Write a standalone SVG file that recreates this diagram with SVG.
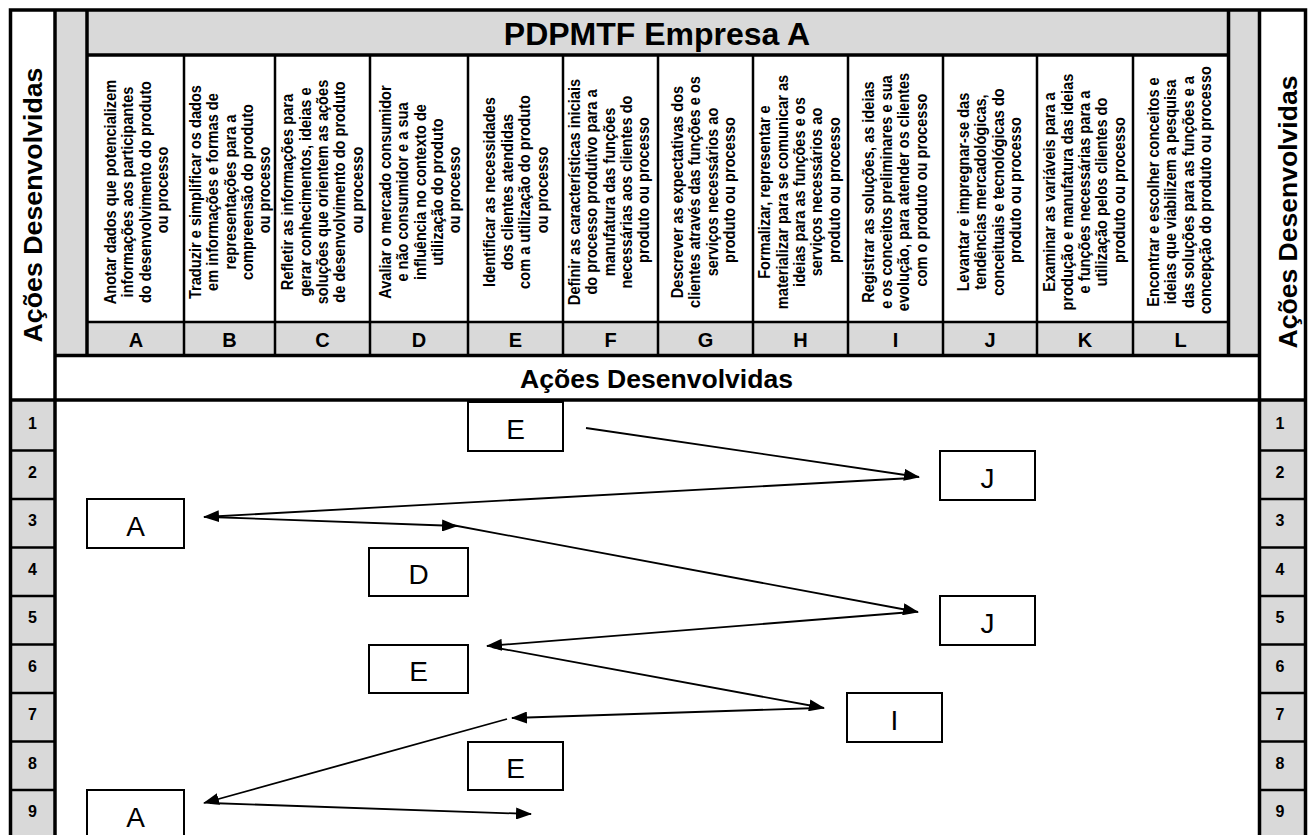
<svg xmlns="http://www.w3.org/2000/svg" width="1313" height="835" viewBox="0 0 1313 835">
  <defs>
    <style>
      .gray{fill:#d9d9d9}
      .thick{stroke:#000;stroke-width:3.5;fill:none}
      .thin{stroke:#000;stroke-width:2.5;fill:none}
      .bold{font-family:"Liberation Sans",Arial,Helvetica,sans-serif;font-weight:bold;fill:#000}
      .coltxt{font-size:16.4px;text-anchor:middle}
      .letter{font-size:20px;text-anchor:middle}
      .rownum{font-size:16px;text-anchor:middle}
      .node rect{fill:#fff;stroke:#000;stroke-width:2}
      .node text{font-family:"Liberation Sans",Arial,Helvetica,sans-serif;font-size:28px;text-anchor:middle;fill:#000}
      .conn{stroke:#000;stroke-width:1.8;fill:none;marker-end:url(#arrow)}
    </style>
    <marker id="arrow" viewBox="0 0 16 12" refX="15" refY="6" markerWidth="16" markerHeight="12" markerUnits="userSpaceOnUse" orient="auto">
      <path d="M0,0 L16,6 L0,12 Z" fill="#000"/>
    </marker>
  </defs>

  <rect x="0" y="0" width="1313" height="835" fill="#fff"/>

  <!-- shaded bands of the header table -->
  <g id="shading">
    <rect class="gray" x="55" y="10" width="32" height="346"/>
    <rect class="gray" x="87" y="10" width="1141" height="45"/>
    <rect class="gray" x="87" y="322" width="1141" height="34"/>
    <rect class="gray" x="1228" y="10" width="31" height="346"/>
    <rect class="gray" x="10" y="400" width="45" height="440"/>
    <rect class="gray" x="1259" y="400" width="46" height="440"/>
  </g>

  <!-- table rules -->
  <g id="grid">
    <rect class="thick" x="10.5" y="10" width="1295" height="840"/>
    <line class="thick" x1="55" y1="10" x2="55" y2="835"/>
    <line class="thick" x1="87" y1="10" x2="87" y2="356"/>
    <line class="thick" x1="1228.5" y1="10" x2="1228.5" y2="356"/>
    <line class="thick" x1="1259.5" y1="10" x2="1259.5" y2="835"/>
    <line class="thick" x1="87" y1="55" x2="1228.5" y2="55"/>
    <line class="thin" x1="87" y1="322" x2="1228.5" y2="322"/>
    <line class="thick" x1="55" y1="355.5" x2="1259.5" y2="355.5"/>
    <line class="thick" x1="10" y1="400" x2="1306" y2="400"/>
    <!-- column dividers -->
    <g class="thin">
      <line x1="184" y1="55" x2="184" y2="356"/>
      <line x1="275" y1="55" x2="275" y2="356"/>
      <line x1="370" y1="55" x2="370" y2="356"/>
      <line x1="468" y1="55" x2="468" y2="356"/>
      <line x1="563" y1="55" x2="563" y2="356"/>
      <line x1="658" y1="55" x2="658" y2="356"/>
      <line x1="753" y1="55" x2="753" y2="356"/>
      <line x1="848" y1="55" x2="848" y2="356"/>
      <line x1="943" y1="55" x2="943" y2="356"/>
      <line x1="1037" y1="55" x2="1037" y2="356"/>
      <line x1="1133" y1="55" x2="1133" y2="356"/>
    </g>
    <!-- row dividers, both sides -->
    <g class="thin">
      <line x1="10" y1="450.5" x2="55" y2="450.5"/>
      <line x1="10" y1="499" x2="55" y2="499"/>
      <line x1="10" y1="547.5" x2="55" y2="547.5"/>
      <line x1="10" y1="596" x2="55" y2="596"/>
      <line x1="10" y1="644.5" x2="55" y2="644.5"/>
      <line x1="10" y1="693" x2="55" y2="693"/>
      <line x1="10" y1="741.5" x2="55" y2="741.5"/>
      <line x1="10" y1="790" x2="55" y2="790"/>
      <line x1="1259.5" y1="450.5" x2="1306" y2="450.5"/>
      <line x1="1259.5" y1="499" x2="1306" y2="499"/>
      <line x1="1259.5" y1="547.5" x2="1306" y2="547.5"/>
      <line x1="1259.5" y1="596" x2="1306" y2="596"/>
      <line x1="1259.5" y1="644.5" x2="1306" y2="644.5"/>
      <line x1="1259.5" y1="693" x2="1306" y2="693"/>
      <line x1="1259.5" y1="741.5" x2="1306" y2="741.5"/>
      <line x1="1259.5" y1="790" x2="1306" y2="790"/>
    </g>
  </g>

  <!-- headings -->
  <g id="headings" class="bold">
    <text x="657" y="45" font-size="32" text-anchor="middle">PDPMTF Empresa A</text>
    <text x="656.5" y="388" font-size="26" text-anchor="middle" textLength="273" lengthAdjust="spacingAndGlyphs">Ações Desenvolvidas</text>
    <text transform="translate(42,205) rotate(-90)" font-size="26" text-anchor="middle" textLength="275" lengthAdjust="spacingAndGlyphs">Ações Desenvolvidas</text>
    <text transform="translate(1297,212) rotate(-90)" font-size="26" text-anchor="middle" textLength="273" lengthAdjust="spacingAndGlyphs">Ações Desenvolvidas</text>
  </g>

  <!-- action descriptions, one column each (narrowed glyphs) -->
  <g id="columns" class="bold coltxt">
    <text transform="translate(137.5,190) rotate(-90) scale(0.89,1)">
      <tspan x="0" y="-21.75">Anotar dados que potencializem</tspan>
      <tspan x="0" y="-4.25">informações aos participantes</tspan>
      <tspan x="0" y="13.25">do desenvolvimento do produto</tspan>
      <tspan x="0" y="30.75">ou processo</tspan>
    </text>
    <text transform="translate(231,190) rotate(-90) scale(0.89,1)">
      <tspan x="0" y="-30.5">Traduzir e simplificar os dados</tspan>
      <tspan x="0" y="-13">em informações e formas de</tspan>
      <tspan x="0" y="4.5">representações para a</tspan>
      <tspan x="0" y="22">compreensão do produto</tspan>
      <tspan x="0" y="39.5">ou processo</tspan>
    </text>
    <text transform="translate(323.5,190) rotate(-90) scale(0.89,1)">
      <tspan x="0" y="-30.5">Refletir as informações para</tspan>
      <tspan x="0" y="-13">gerar conhecimentos, ideias e</tspan>
      <tspan x="0" y="4.5">soluções que orientem as ações</tspan>
      <tspan x="0" y="22">de desenvolvimento do produto</tspan>
      <tspan x="0" y="39.5">ou processo</tspan>
    </text>
    <text transform="translate(421,190) rotate(-90) scale(0.89,1)">
      <tspan x="0" y="-30.5">Avaliar o mercado consumidor</tspan>
      <tspan x="0" y="-13">e não consumidor e a sua</tspan>
      <tspan x="0" y="4.5">influência  no contexto de</tspan>
      <tspan x="0" y="22">utilização do  produto</tspan>
      <tspan x="0" y="39.5">ou processo</tspan>
    </text>
    <text transform="translate(517,190) rotate(-90) scale(0.89,1)">
      <tspan x="0" y="-21.75">Identificar as necessidades</tspan>
      <tspan x="0" y="-4.25">dos clientes atendidas</tspan>
      <tspan x="0" y="13.25">com a utilização do produto</tspan>
      <tspan x="0" y="30.75">ou processo</tspan>
    </text>
    <text transform="translate(610,190) rotate(-90) scale(0.89,1)">
      <tspan x="0" y="-30.5">Definir as características iniciais</tspan>
      <tspan x="0" y="-13">do processo produtivo para a</tspan>
      <tspan x="0" y="4.5">manufatura das funções</tspan>
      <tspan x="0" y="22">necessárias aos clientes do</tspan>
      <tspan x="0" y="39.5">produto ou processo</tspan>
    </text>
    <text transform="translate(704.5,190) rotate(-90) scale(0.89,1)">
      <tspan x="0" y="-21.75">Descrever as expectativas dos</tspan>
      <tspan x="0" y="-4.25">clientes através das funções e os</tspan>
      <tspan x="0" y="13.25">serviços necessários ao</tspan>
      <tspan x="0" y="30.75">produto ou processo</tspan>
    </text>
    <text transform="translate(800.5,190) rotate(-90) scale(0.89,1)">
      <tspan x="0" y="-30.5">Formalizar, representar e</tspan>
      <tspan x="0" y="-13">materializar para se comunicar as</tspan>
      <tspan x="0" y="4.5">ideias para as funções e os</tspan>
      <tspan x="0" y="22">serviços necessários  ao</tspan>
      <tspan x="0" y="39.5">produto ou processo</tspan>
    </text>
    <text transform="translate(896,190) rotate(-90) scale(0.89,1)">
      <tspan x="0" y="-21.75">Registrar as soluções, as ideias</tspan>
      <tspan x="0" y="-4.25">e os conceitos preliminares e sua</tspan>
      <tspan x="0" y="13.25">evolução, para atender os clientes</tspan>
      <tspan x="0" y="30.75">com o produto ou  processo</tspan>
    </text>
    <text transform="translate(990.5,190) rotate(-90) scale(0.89,1)">
      <tspan x="0" y="-21.75">Levantar e impregnar-se das</tspan>
      <tspan x="0" y="-4.25">tendências mercadológicas,</tspan>
      <tspan x="0" y="13.25">conceituais e tecnológicas do</tspan>
      <tspan x="0" y="30.75">produto ou processo</tspan>
    </text>
    <text transform="translate(1085.5,190) rotate(-90) scale(0.89,1)">
      <tspan x="0" y="-30.5">Examinar as variáveis para a</tspan>
      <tspan x="0" y="-13">produção e manufatura das ideias</tspan>
      <tspan x="0" y="4.5">e funções necessárias para a</tspan>
      <tspan x="0" y="22">utilização pelos clientes do</tspan>
      <tspan x="0" y="39.5">produto ou processo</tspan>
    </text>
    <text transform="translate(1180.5,190) rotate(-90) scale(0.89,1)">
      <tspan x="0" y="-21.75">Encontrar e escolher conceitos e</tspan>
      <tspan x="0" y="-4.25">ideias que viabilizem a pesquisa</tspan>
      <tspan x="0" y="13.25">das soluções para as funções e a</tspan>
      <tspan x="0" y="30.75">concepção do produto ou processo</tspan>
    </text>
  </g>

  <!-- column letters -->
  <g id="letters" class="bold letter">
    <text x="136" y="347">A</text>
    <text x="229.5" y="347">B</text>
    <text x="322.5" y="347">C</text>
    <text x="419" y="347">D</text>
    <text x="515.5" y="347">E</text>
    <text x="610.5" y="347">F</text>
    <text x="705.5" y="347">G</text>
    <text x="800.5" y="347">H</text>
    <text x="895.5" y="347">I</text>
    <text x="990" y="347">J</text>
    <text x="1085" y="347">K</text>
    <text x="1180.5" y="347">L</text>
  </g>

  <!-- step numbers -->
  <g id="steps" class="bold rownum">
    <text x="32.5" y="429">1</text>
    <text x="32.5" y="477.5">2</text>
    <text x="32.5" y="526">3</text>
    <text x="32.5" y="574.5">4</text>
    <text x="32.5" y="623">5</text>
    <text x="32.5" y="671.5">6</text>
    <text x="32.5" y="720">7</text>
    <text x="32.5" y="768.5">8</text>
    <text x="32.5" y="817">9</text>
    <text x="1280" y="429">1</text>
    <text x="1280" y="477.5">2</text>
    <text x="1280" y="526">3</text>
    <text x="1280" y="574.5">4</text>
    <text x="1280" y="623">5</text>
    <text x="1280" y="671.5">6</text>
    <text x="1280" y="720">7</text>
    <text x="1280" y="768.5">8</text>
    <text x="1280" y="817">9</text>
  </g>

  <!-- sequence of actions -->
  <g id="step1-E" class="node"><rect x="468" y="402" width="95" height="49"/><text x="515.5" y="439">E</text></g>
  <g id="step2-J" class="node"><rect x="940" y="451" width="95" height="49"/><text x="987.5" y="488">J</text></g>
  <g id="step3-A" class="node"><rect x="87" y="499" width="97" height="49"/><text x="135.5" y="536">A</text></g>
  <g id="step4-D" class="node"><rect x="369" y="548" width="99" height="48"/><text x="418.5" y="584">D</text></g>
  <g id="step5-J" class="node"><rect x="940" y="596" width="95" height="49"/><text x="987.5" y="633">J</text></g>
  <g id="step6-E" class="node"><rect x="369" y="645" width="99" height="48"/><text x="418.5" y="681">E</text></g>
  <g id="step7-I" class="node"><rect x="847" y="693" width="95" height="49"/><text x="894.5" y="730">I</text></g>
  <g id="step8-E" class="node"><rect x="468" y="742" width="95" height="48"/><text x="515.5" y="778">E</text></g>
  <g id="step9-A" class="node"><rect x="87" y="790" width="97" height="50"/><text x="135.5" y="827">A</text></g>

  <g id="connectors">
    <line class="conn" x1="586" y1="428" x2="919" y2="477"/>
    <line class="conn" x1="912" y1="478" x2="204" y2="517"/>
    <line class="conn" x1="210" y1="517" x2="457" y2="526"/>
    <line class="conn" x1="452" y1="525" x2="918" y2="612"/>
    <line class="conn" x1="912" y1="612" x2="487" y2="646"/>
    <line class="conn" x1="492" y1="647" x2="824" y2="708"/>
    <line class="conn" x1="818" y1="708" x2="512" y2="718"/>
    <line class="conn" x1="507" y1="719" x2="204" y2="803"/>
    <line class="conn" x1="210" y1="803" x2="531" y2="814"/>
  </g>
</svg>
